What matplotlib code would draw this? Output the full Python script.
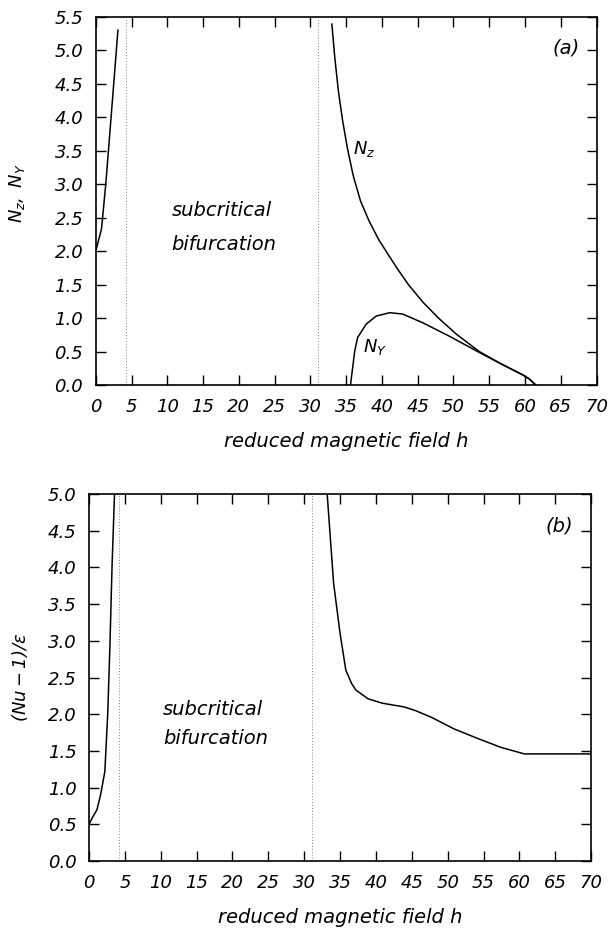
import matplotlib
matplotlib.use('Agg')
import matplotlib.pyplot as plt
import numpy as np

plt.rcParams['font.family'] = 'DejaVu Sans'
plt.rcParams['font.style'] = 'italic'
plt.rcParams['mathtext.fontset'] = 'dejavusans'

# (a) amplitudes N_z, N_Y versus reduced field h
h_left_a = [0.0, 0.8, 1.4, 2.2, 3.1]
nz_left = [2.0, 2.33, 3.0, 4.08, 5.3]

h_nz = [33.0, 33.4, 33.9, 34.5, 35.2, 36.0, 37.0, 38.2, 39.5, 40.8, 42.2,
        43.7, 45.7, 47.9, 50.4, 53.6, 56.4, 59.7, 60.6, 61.5]
nz = [5.39, 4.90, 4.40, 3.95, 3.52, 3.12, 2.75, 2.45, 2.18, 1.96, 1.73,
      1.50, 1.24, 1.00, 0.76, 0.50, 0.33, 0.15, 0.09, 0.0]

h_ny = [35.6, 36.2, 36.6, 37.8, 39.2, 41.1, 42.9, 45.7, 49.4, 53.2, 56.4,
        59.7, 60.6, 61.5]
ny = [0.0, 0.51, 0.71, 0.91, 1.03, 1.08, 1.06, 0.93, 0.73, 0.51, 0.33,
      0.15, 0.09, 0.0]

# (b) reduced Nusselt number
h_left_b = [0.0, 0.5, 1.1, 1.6, 2.2, 2.6, 2.9, 3.2, 3.55]
nu_left = [0.5, 0.6, 0.7, 0.9, 1.22, 2.0, 2.9, 4.0, 5.0]

h_nu = [33.2, 34.1, 35.0, 35.8, 36.6, 37.2, 38.9, 40.9, 43.9, 45.5, 47.7,
        50.9, 54.2, 57.4, 60.7, 62.0, 70.0]
nu = [5.0, 3.78, 3.10, 2.60, 2.42, 2.33, 2.21, 2.15, 2.10, 2.05, 1.96,
      1.80, 1.67, 1.55, 1.46, 1.46, 1.46]

# limits of the subcritical region
h_sub = [4.2, 31.1]

xticks = np.arange(0, 71, 5)


def style_axes(ax, ymax):
    ax.set_xlim(0, 70)
    ax.set_ylim(0, ymax)
    ax.set_xticks(xticks)
    ax.set_yticks(np.arange(0, ymax + 0.01, 0.5))
    ax.set_xticklabels([str(t) for t in xticks])
    ax.set_yticklabels(['%.1f' % t for t in np.arange(0, ymax + 0.01, 0.5)])
    ax.tick_params(axis='both', direction='in', top=True, right=True,
                   length=7.5, width=1.0, labelsize=13)
    ax.tick_params(axis='x', pad=9)
    ax.tick_params(axis='y', pad=9)
    for s in ax.spines.values():
        s.set_linewidth(1.2)
    for hs in h_sub:
        ax.axvline(hs, color='0.5', lw=0.7, linestyle=(0, (1, 2)))
    ax.set_xlabel('reduced magnetic field h', fontsize=14, labelpad=12)


fig = plt.figure(figsize=(6.1, 9.3), dpi=100)

ax1 = fig.add_axes([0.157, 0.586, 0.821, 0.396])
style_axes(ax1, 5.5)
ax1.plot(h_left_a, nz_left, color='k', lw=1.1)
ax1.plot(h_nz, nz, color='k', lw=1.1)
ax1.plot(h_ny, ny, color='k', lw=1.1)
ax1.text(35.9, 3.53, r'$N_z$', fontsize=13, va='center', ha='left')
ax1.text(37.3, 0.57, r'$N_Y$', fontsize=13, va='center', ha='left')
ax1.text(67.6, 5.04, '(a)', fontsize=14, ha='right', va='center')
ax1.text(10.6, 2.6, 'subcritical', fontsize=14, va='center')
ax1.text(10.6, 2.1, 'bifurcation', fontsize=14, va='center')
ax1.set_ylabel(r'$N_z,\ N_Y$', fontsize=13)
ax1.yaxis.set_label_coords(-0.138, 0.52)

ax2 = fig.add_axes([0.146, 0.074, 0.823, 0.395])
style_axes(ax2, 5.0)
ax2.plot(h_left_b, nu_left, color='k', lw=1.1)
ax2.plot(h_nu, nu, color='k', lw=1.1)
ax2.text(67.5, 4.56, '(b)', fontsize=14, ha='right', va='center')
ax2.text(10.3, 2.07, 'subcritical', fontsize=14, va='center')
ax2.text(10.3, 1.67, 'bifurcation', fontsize=14, va='center')
ax2.set_ylabel(r'$(Nu-1)/\varepsilon$', fontsize=13)
ax2.yaxis.set_label_coords(-0.118, 0.5)

fig.savefig('out.png', dpi=100)
